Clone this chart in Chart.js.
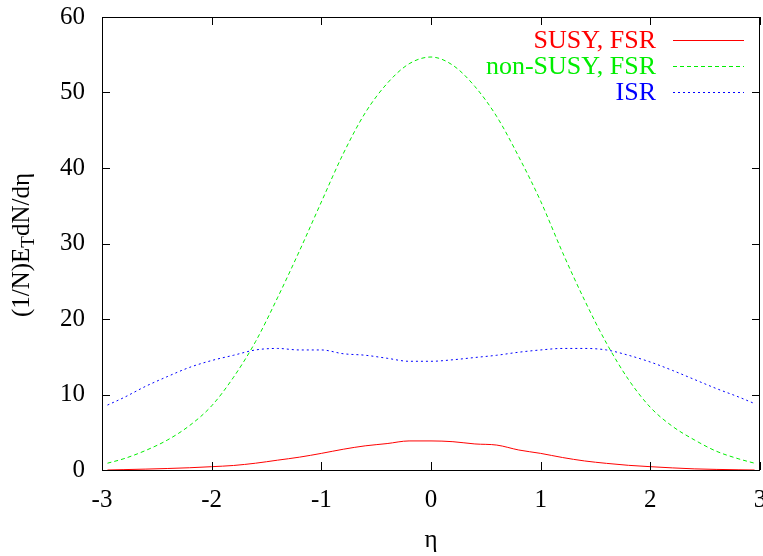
<!DOCTYPE html>
<html>
<head>
<meta charset="utf-8">
<script src="https://cdn.jsdelivr.net/npm/chart.js@4/dist/chart.umd.min.js"></script>
<style>
  html, body { margin: 0; padding: 0; background: #fff; }
  #wrap { width: 763px; height: 556px; }
</style>
</head>
<body>
<div id="wrap"><canvas id="c"></canvas></div>
<script>
// eta bins
const eta = [-2.95, -2.8, -2.6, -2.4, -2.2, -2.0, -1.8, -1.6, -1.4, -1.2, -1.0, -0.8, -0.6, -0.4, -0.2,
             0, 0.2, 0.4, 0.6, 0.8, 1.0, 1.2, 1.4, 1.6, 1.8, 2.0, 2.2, 2.4, 2.6, 2.8, 2.95];

const susyFSR = [0.0, 0.05, 0.12, 0.2, 0.3, 0.44, 0.6, 0.9, 1.3, 1.7, 2.2, 2.75, 3.2, 3.5, 3.85,
                 3.85, 3.75, 3.45, 3.3, 2.65, 2.2, 1.65, 1.2, 0.88, 0.62, 0.44, 0.28, 0.15, 0.08, 0.03, 0.0];

const nonSusyFSR = [0.9, 1.5, 2.6, 4.0, 5.9, 8.5, 12.3, 17.0, 22.8, 29.0, 35.5, 41.9, 47.3, 51.2, 53.8,
                    54.7, 53.6, 50.8, 46.8, 41.5, 35.6, 28.8, 22.5, 16.8, 12.0, 8.3, 5.8, 4.0, 2.5, 1.5, 0.9];

const isr = [8.6, 9.6, 11.1, 12.4, 13.6, 14.5, 15.2, 15.9, 16.1, 15.9, 15.9, 15.4, 15.2, 14.8, 14.4,
             14.4, 14.6, 14.9, 15.2, 15.6, 15.9, 16.1, 16.1, 15.9, 15.2, 14.3, 13.2, 12.0, 10.8, 9.7, 8.8];

const seriesLabels = ['SUSY, FSR', 'non-SUSY, FSR', 'ISR'];
const seriesColors = ['#ff0000', '#00ee00', '#0000ff'];
const seriesDash   = [[], [4, 3], [2, 3]];

const xTicks = [-3, -2, -1, 0, 1, 2, 3];
const yTicks = [0, 10, 20, 30, 40, 50, 60];

const serif = '"Liberation Serif", "DejaVu Serif", serif';

function pts(ys) {
    return eta.map((x, i) => ({ x: x, y: ys[i] }));
}

// frame + inward tick marks on all four sides (gnuplot look)
const framePlugin = {
    id: 'frame',
    afterDraw(chart) {
        const { ctx, chartArea: a, scales } = chart;
        ctx.save();
        ctx.strokeStyle = '#000';
        ctx.lineWidth = 1;
        ctx.strokeRect(a.left + 0.5, a.top + 0.5, a.right - a.left - 1, a.bottom - a.top);
        ctx.beginPath();
        xTicks.forEach(v => {
            const px = Math.round(scales.x.getPixelForValue(v)) + 0.5;
            ctx.moveTo(px, a.bottom); ctx.lineTo(px, a.bottom - 8);
            ctx.moveTo(px, a.top);    ctx.lineTo(px, a.top + 8);
        });
        yTicks.forEach(v => {
            const py = Math.round(scales.y.getPixelForValue(v)) + 0.5;
            ctx.moveTo(a.left, py);  ctx.lineTo(a.left + 8, py);
            ctx.moveTo(a.right, py); ctx.lineTo(a.right - 8, py);
        });
        ctx.stroke();
        ctx.restore();
    }
};

// legend in top-right corner, text right aligned, sample line after it
const legendPlugin = {
    id: 'gpLegend',
    afterDraw(chart) {
        const ctx = chart.ctx;
        ctx.save();
        ctx.font = '26px ' + serif;
        ctx.textAlign = 'right';
        ctx.textBaseline = 'middle';
        chart.data.datasets.forEach((ds, i) => {
            const y = 40 + i * 26;
            ctx.fillStyle = ds.borderColor;
            ctx.fillText(ds.label, 656, y + 1);
            ctx.strokeStyle = ds.borderColor;
            ctx.lineWidth = 1;
            ctx.setLineDash(ds.borderDash || []);
            ctx.beginPath();
            ctx.moveTo(673, y + 0.5);
            ctx.lineTo(744, y + 0.5);
            ctx.stroke();
        });
        ctx.restore();
    }
};

// y axis label with subscript T
const yLabelPlugin = {
    id: 'yLabel',
    afterDraw(chart) {
        const ctx = chart.ctx;
        ctx.save();
        ctx.translate(22, 245);
        ctx.rotate(-Math.PI / 2);
        ctx.fillStyle = '#000';
        ctx.textBaseline = 'middle';
        const big = '25px ' + serif, small = '19px ' + serif;
        const parts = [['(1/N)E', big, 0], ['T', small, 7], ['dN/dη', big, 0]];
        let w = 0;
        parts.forEach(p => { ctx.font = p[1]; w += ctx.measureText(p[0]).width; });
        let x = -w / 2;
        parts.forEach(p => {
            ctx.font = p[1];
            ctx.fillText(p[0], x, p[2]);
            x += ctx.measureText(p[0]).width;
        });
        ctx.restore();
    }
};

const datasets = [susyFSR, nonSusyFSR, isr].map((ys, i) => ({
    label: seriesLabels[i],
    data: pts(ys),
    borderColor: seriesColors[i],
    borderWidth: 1,
    borderDash: seriesDash[i],
    pointRadius: 0,
    fill: false,
    cubicInterpolationMode: 'monotone'
}));

new Chart(document.getElementById('c'), {
    type: 'line',
    data: { datasets },
    options: {
        responsive: true,
        maintainAspectRatio: false,
        animation: false,
        events: [],
        layout: { padding: { top: 17, right: 3, left: 0, bottom: 0 } },
        plugins: { legend: { display: false }, tooltip: { enabled: false } },
        scales: {
            x: {
                type: 'linear',
                min: -3, max: 3,
                grid: { display: false, drawTicks: false },
                border: { display: false },
                afterBuildTicks(s) { s.ticks = xTicks.map(v => ({ value: v })); },
                afterFit(s) { s.height = 86; s.paddingLeft = 0; s.paddingRight = 0; },
                ticks: { color: '#000', font: { family: serif, size: 25 }, padding: 15, maxRotation: 0 },
                title: { display: true, text: 'η', color: '#000', font: { family: serif, size: 25 }, padding: { top: 0, bottom: 1 } }
            },
            y: {
                min: 0, max: 60,
                grid: { display: false, drawTicks: false },
                border: { display: false },
                afterBuildTicks(s) { s.ticks = yTicks.map(v => ({ value: v })); },
                afterFit(s) { s.width = 102; s.paddingTop = 0; s.paddingBottom = 0; },
                ticks: { color: '#000', font: { family: serif, size: 25 }, padding: 17 }
            }
        }
    },
    plugins: [framePlugin, legendPlugin, yLabelPlugin]
});
</script>
</body>
</html>
